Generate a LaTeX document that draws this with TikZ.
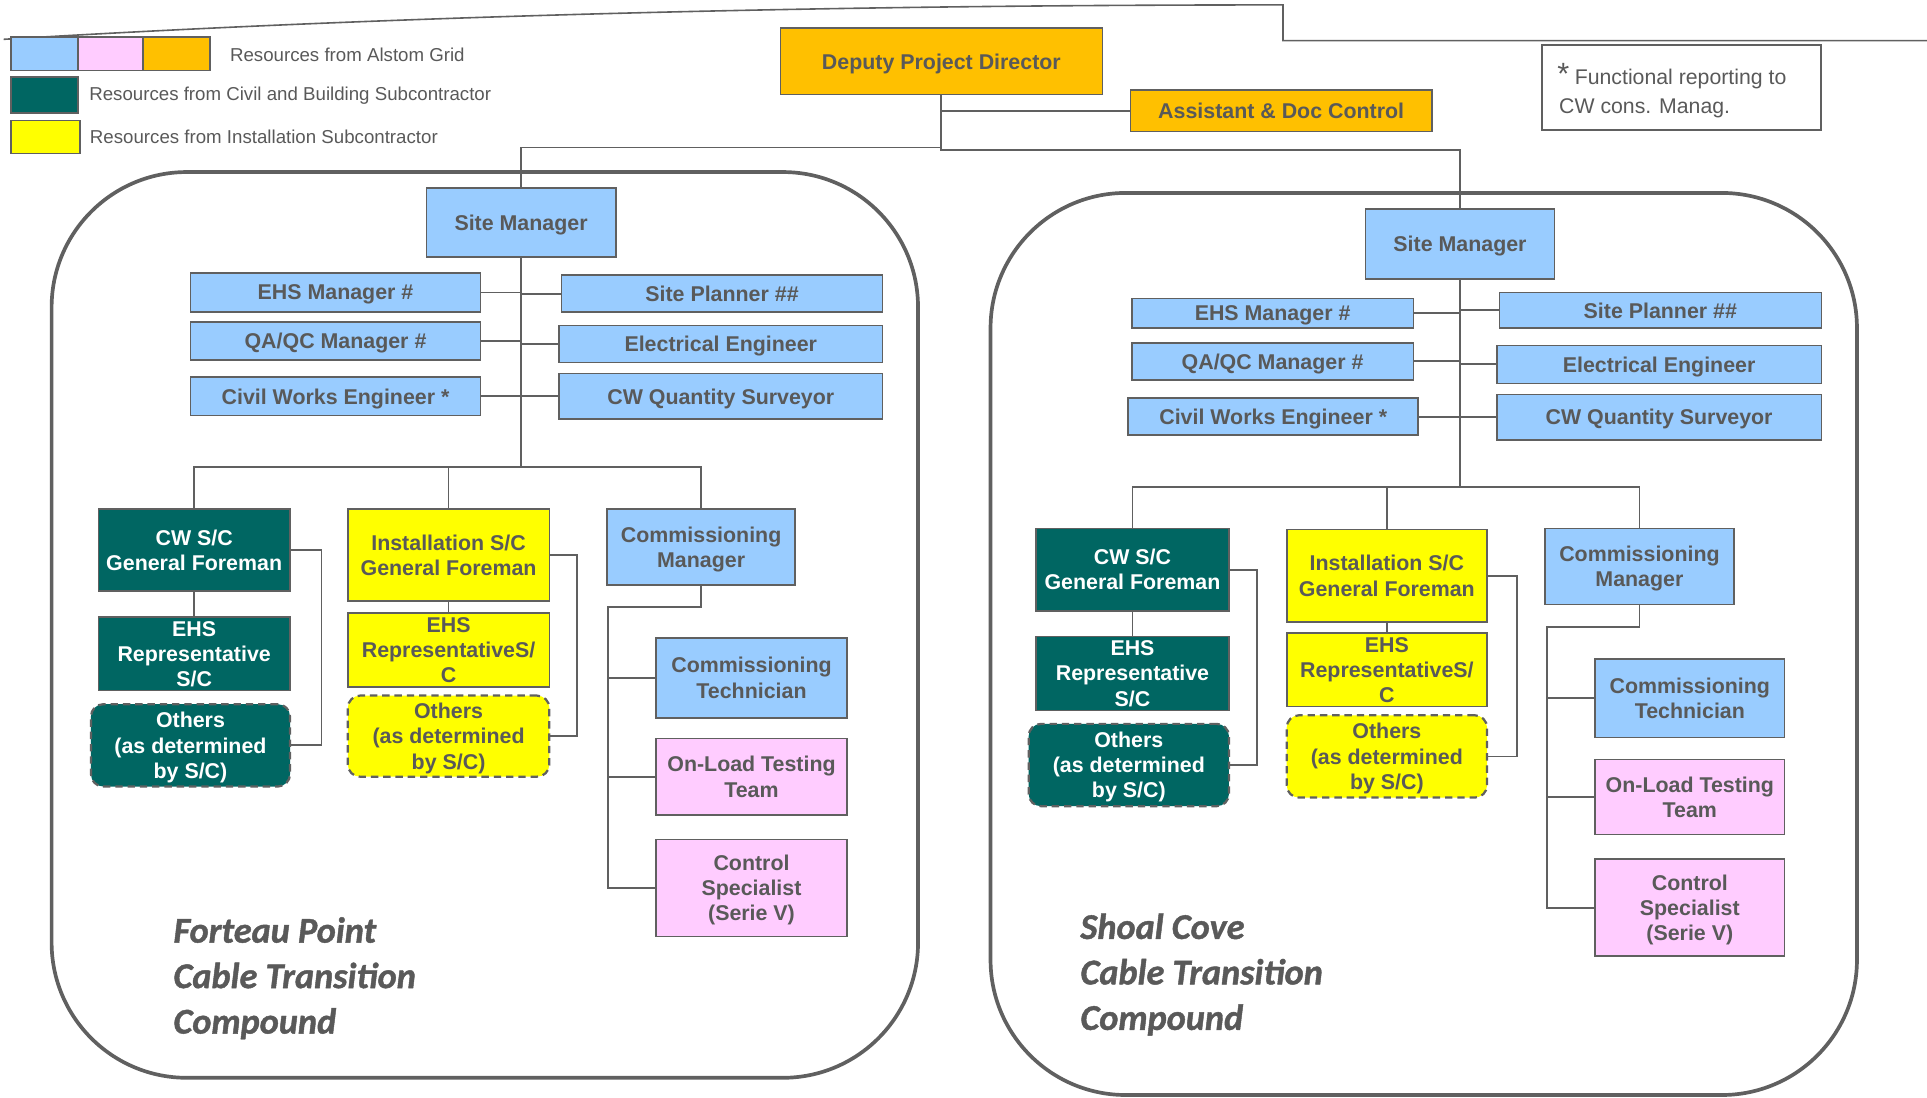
\documentclass[tikz,border=0pt]{standalone}
\usepackage{fontspec}
\setmainfont{Liberation Sans}
\newfontfamily\sitefont{Carlito}[BoldItalicFeatures={FakeBold=1.2}]
\usetikzlibrary{calc}

\definecolor{ink}{HTML}{595959}
\definecolor{edge}{HTML}{606060}
\definecolor{alsblue}{HTML}{99CCFF}
\definecolor{alspink}{HTML}{FFCCFF}
\definecolor{alsorange}{HTML}{FFC000}
\definecolor{civteal}{HTML}{006662}
\definecolor{instyellow}{HTML}{FFFF00}

\newcommand{\boxfont}{\fontsize{17.4}{20.5}\selectfont\bfseries}
\newcommand{\legendfont}{\fontsize{15.2}{18}\selectfont}
\newcommand{\notefont}{\fontsize{17.3}{22}\selectfont}
\newcommand{\sitelabelfont}{\sitefont\fontsize{29.5}{37}\selectfont\bfseries\itshape}

% box from its corners: name, x1, y1, x2, y2, style, text
\newcommand{\bx}[7]{%
  \node[#6, minimum width={(#4)-(#2)}, minimum height={(#5)-(#3)}]
    (#1) at ({((#2)+(#4))/2},{((#3)+(#5))/2}) {#7};}

\begin{document}
\begin{tikzpicture}[x=1pt, y=-1pt,
  role/.style={draw=edge, line width=1.3pt, inner sep=0pt, align=center,
               text=ink, font=\boxfont, text depth=0pt},
  alstom/.style={role, fill=alsblue},
  testing/.style={role, fill=alspink},
  lead/.style={role, fill=alsorange},
  civil/.style={role, fill=civteal, text=white},
  install/.style={role, fill=instyellow},
  othersbox/.style={dash pattern=on 6pt off 4pt, line width=1.8pt, rounded corners=10pt},
  swatch/.style={draw=edge, line width=1.3pt, inner sep=0pt},
  legendtext/.style={anchor=west, inner sep=0pt, text=ink, font=\legendfont},
  link/.style={draw=edge, line width=1.5pt},
  compound/.style={draw=edge, line width=3pt, rounded corners=110pt},
  sitelabel/.style={anchor=base west, inner sep=0pt, align=left, text=ink,
                    font=\sitelabelfont}]
\useasboundingbox (0,0) rectangle (1568,893);

% header rule
\draw[edge, line width=1.3pt] (3,32) .. controls (300,14) and (650,4) .. (1044,4)
  -- (1044,33) -- (1568,33);

% legend
\bx{lgBlue}{9}{30}{63.5}{57.5}{swatch, fill=alsblue}{}
\bx{lgPink}{63.5}{30}{116.5}{57.5}{swatch, fill=alspink}{}
\bx{lgOrange}{116.5}{30}{171}{57.5}{swatch, fill=alsorange}{}
\bx{lgTeal}{9}{62.5}{63.5}{92}{swatch, fill=civteal}{}
\bx{lgYellow}{9}{98}{65}{125}{swatch, fill=instyellow}{}
\node[legendtext] (lgTxtA) at (187,45) {Resources from Alstom Grid};
\node[legendtext] (lgTxtB) at (72.5,78) {Resources from Civil and Building Subcontractor};
\node[legendtext] (lgTxtC) at (73,111.5) {Resources from Installation Subcontractor};

% note
\node[draw=edge, line width=1.3pt, minimum width=227, minimum height=69,
      anchor=north west, inner sep=0pt] (note) at (1254,36) {};
\node[anchor=base west, inner sep=0pt, text=ink, font=\notefont] (noteA) at (1267,69)
  {{\fontsize{25}{25}\selectfont *}\hspace{4.5pt}Functional reporting to};
\node[anchor=base west, inner sep=0pt, text=ink, font=\notefont] (noteB) at (1268.5,92)
  {CW cons. Manag.};

% site compounds
\draw[compound] (42,140) rectangle (747,877);
\draw[compound] (806,157) rectangle (1511,891);

% management
\bx{dpd}{635}{23}{897}{77}{lead}{Deputy Project Director}
\bx{asst}{920}{73}{1165}{107}{lead}{Assistant \& Doc Control}

% ---------- Forteau Point ----------
\bx{smL}{347}{153}{501}{209}{alstom}{Site Manager}
\bx{ehsL}{155}{222}{391}{254}{alstom}{EHS Manager \#}
\bx{spL}{457}{224}{718}{254}{alstom}{Site Planner \#\#}
\bx{qaL}{155}{262}{391}{293}{alstom}{QA/QC Manager \#}
\bx{eeL}{455}{265}{718}{295}{alstom}{Electrical Engineer}
\bx{cweL}{155}{307}{391}{338}{alstom}{Civil Works Engineer *}
\bx{cwqL}{455}{304}{718}{341}{alstom}{CW Quantity Surveyor}
\bx{cwscL}{80}{414}{236}{481}{civil}{CW S/C\\General Foreman}
\bx{ehsrL}{80}{502}{236}{562}{civil}{EHS\\Representative\\S/C}
\bx{othL}{74}{573}{236}{640}{civil, othersbox}{Others\\(as determined\\by S/C)}
\bx{instL}{283}{414}{447}{489}{install}{Installation S/C\\General Foreman}
\bx{ehsyL}{283}{499}{447}{559}{install}{EHS\\RepresentativeS/\\C}
\bx{othyL}{283}{566}{447}{632}{install, othersbox}{Others\\(as determined\\by S/C)}
\bx{cmL}{494}{414}{647}{476}{alstom}{Commissioning\\Manager}
\bx{ctL}{534}{519}{689}{584}{alstom}{Commissioning\\Technician}
\bx{olL}{534}{601}{689}{663}{testing}{On-Load Testing\\Team}
\bx{csL}{534}{683}{689}{762}{testing}{Control\\Specialist\\(Serie V)}
\node[sitelabel] (siteL) at (141,841) {Forteau Point\\Cable Transition\\Compound};

% ---------- Shoal Cove ----------
\bx{smR}{1111}{170}{1265}{227}{alstom}{Site Manager}
\bx{ehsR}{921}{243}{1150}{267}{alstom}{EHS Manager \#}
\bx{spR}{1220}{238}{1482}{267}{alstom}{Site Planner \#\#}
\bx{qaR}{921}{279}{1150}{309}{alstom}{QA/QC Manager \#}
\bx{eeR}{1218}{281}{1482}{312}{alstom}{Electrical Engineer}
\bx{cweR}{918}{324}{1154}{354}{alstom}{Civil Works Engineer *}
\bx{cwqR}{1218}{321}{1482}{358}{alstom}{CW Quantity Surveyor}
\bx{cwscR}{843}{430}{1000}{497}{civil}{CW S/C\\General Foreman}
\bx{ehsrR}{843}{518}{1000}{578}{civil}{EHS\\Representative\\S/C}
\bx{othR}{837}{589}{1000}{656}{civil, othersbox}{Others\\(as determined\\by S/C)}
\bx{instR}{1047}{431}{1210}{506}{install}{Installation S/C\\General Foreman}
\bx{ehsyR}{1047}{515}{1210}{575}{install}{EHS\\RepresentativeS/\\C}
\bx{othyR}{1047}{582}{1210}{649}{install, othersbox}{Others\\(as determined\\by S/C)}
\bx{cmR}{1257}{430}{1411}{492}{alstom}{Commissioning\\Manager}
\bx{ctR}{1298}{536}{1452}{600}{alstom}{Commissioning\\Technician}
\bx{olR}{1298}{618}{1452}{679}{testing}{On-Load Testing\\Team}
\bx{csR}{1298}{699}{1452}{778}{testing}{Control\\Specialist\\(Serie V)}
\node[sitelabel] (siteR) at (879,838) {Shoal Cove\\Cable Transition\\Compound};

% ---------- connectors ----------
\coordinate (hubL) at (766,120);
\coordinate (hubR) at (766,122);
\draw[link] (dpd.south) |- (asst.west);
\draw[link] (dpd.south) -- (hubR) -| (smR.north);
\draw[link] (hubL) -| (smL.north);

% Forteau Point staff
\coordinate (jL) at (424,380);
\draw[link] (smL.south) -- (jL);
\foreach \n in {ehsL,qaL,cweL} \draw[link] (\n.east) -- (\n.east -| jL);
\foreach \n in {spL,eeL,cwqL} \draw[link] (\n.west) -- (\n.west -| jL);
\draw[link] (cwscL.north) |- (jL) -| (cmL.north);
\draw[link] (instL.north) -- (instL.north |- jL);
\draw[link] (cwscL.south) -- (ehsrL.north);
\draw[link] (instL.south) -- (ehsyL.north);
\draw[link] (cwscL.east) -- ++(25,0) |- (othL.east);
\draw[link] (instL.east) -- ++(22,0) |- (othyL.east);
\coordinate (kL) at (495,494);
\draw[link] (cmL.south) |- (kL) |- (csL.west);
\draw[link] (ctL.west) -- (ctL.west -| kL);
\draw[link] (olL.west) -- (olL.west -| kL);

% Shoal Cove staff
\coordinate (jR) at (1188,396.5);
\draw[link] (smR.south) -- (jR);
\foreach \n in {ehsR,qaR,cweR} \draw[link] (\n.east) -- (\n.east -| jR);
\foreach \n in {spR,eeR,cwqR} \draw[link] (\n.west) -- (\n.west -| jR);
\draw[link] (cwscR.north) |- (jR) -| (cmR.north);
\draw[link] (instR.north) -- (instR.north |- jR);
\draw[link] (cwscR.south) -- (ehsrR.north);
\draw[link] (instR.south) -- (ehsyR.north);
\draw[link] (cwscR.east) -- ++(22,0) |- (othR.east);
\draw[link] (instR.east) -- ++(24,0) |- (othyR.east);
\coordinate (kR) at (1259,510);
\draw[link] (cmR.south) |- (kR) |- (csR.west);
\draw[link] (ctR.west) -- (ctR.west -| kR);
\draw[link] (olR.west) -- (olR.west -| kR);
\end{tikzpicture}
\end{document}
